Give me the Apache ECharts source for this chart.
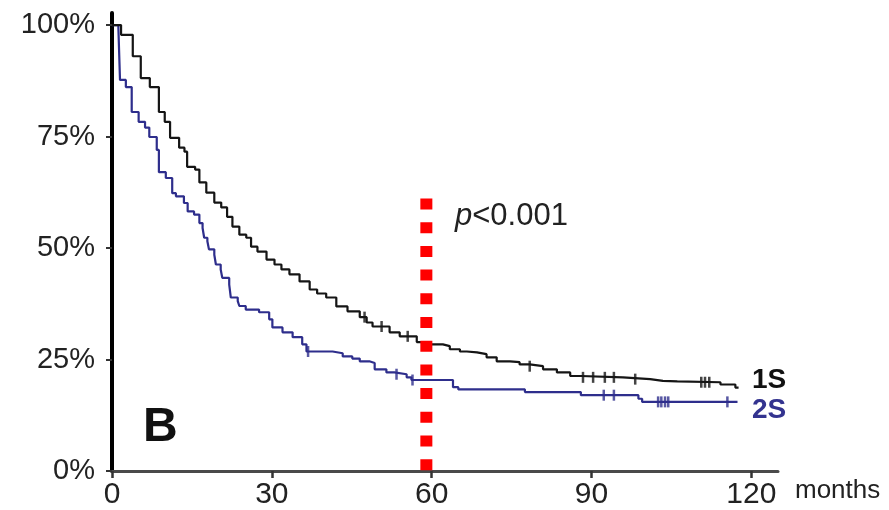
<!DOCTYPE html>
<html>
<head>
<meta charset="utf-8">
<script src="https://cdn.jsdelivr.net/npm/echarts@6/dist/echarts.min.js"></script>
<style>
html,body{margin:0;padding:0;background:#fff;}
#chart{width:889px;height:510px;}
</style>
</head>
<body>
<div id="chart"></div>
<script>
// Kaplan-Meier curves: time (months) at which survival drops, and survival (%) after the drop
const blackTimes = [0, 1.7, 3.9, 5.4, 7.1, 8.8, 9.9, 10.9, 12.6, 13.6, 14.1, 15.6, 16.4, 17.7, 19.2, 20.5, 21.6, 22.6, 23.9, 25.2, 26.1, 27.3, 29.0, 30.5, 31.8, 33.3, 35.2, 37.1, 38.5, 40.2, 42.1, 44.2, 46.5, 47.8, 48.9, 52.1, 54.0, 57.2, 59.6, 62.1, 63.4, 65.3, 66.6, 68.5, 70.3, 72.2, 74.7, 76.5, 78.4, 80.9, 83.5, 86.0, 88.0, 95.9, 101.0, 103.4, 106.1, 114.2, 117.0, 117.6];
const blackSurv  = [100, 97.8, 93.0, 88.1, 86.1, 80.5, 78.3, 74.7, 72.5, 71.6, 68.2, 67.6, 64.7, 62.4, 60.2, 59.1, 57.0, 54.8, 53.0, 52.3, 50.3, 49.2, 47.4, 46.3, 45.2, 44.1, 42.5, 40.7, 39.8, 38.9, 36.9, 35.8, 34.5, 33.3, 32.4, 31.1, 30.2, 28.9, 28.4, 28.0, 27.3, 26.8, 26.6, 26.2, 25.5, 24.6, 24.4, 23.9, 23.5, 22.8, 22.1, 21.3, 21.0, 20.6, 20.2, 20.1, 19.9, 19.4, 18.7, 18.7];
const blackCensor = [47.4, 50.6, 55.5, 78.4, 88.4, 90.3, 92.5, 94.2, 98.2, 110.6, 111.3, 112.1];

const blueTimes = [0, 1.2, 1.5, 2.6, 3.7, 5.0, 6.2, 7.0, 8.4, 8.8, 10.1, 11.3, 12.0, 13.5, 14.2, 15.4, 16.4, 17.0, 17.3, 17.9, 18.2, 19.2, 19.5, 20.4, 20.7, 22.0, 22.3, 23.6, 23.9, 25.1, 27.6, 29.5, 30.1, 32.0, 33.9, 35.7, 36.5, 41.4, 43.3, 45.1, 46.5, 48.3, 49.3, 51.5, 53.0, 55.3, 56.2, 64.0, 65.0, 77.5, 88.0, 98.8, 99.5, 117.4];
const blueSurv  = [100, 99.3, 87.7, 86.1, 80.5, 78.3, 77.0, 74.9, 72.0, 67.0, 65.7, 62.3, 61.6, 60.1, 58.2, 57.5, 55.6, 54.5, 52.3, 51.5, 49.7, 48.5, 46.3, 45.2, 43.3, 41.8, 38.9, 38.1, 37.0, 36.2, 35.6, 34.0, 32.2, 31.1, 30.0, 28.4, 26.8, 26.4, 25.7, 25.2, 24.6, 24.2, 22.8, 22.1, 21.7, 21.0, 20.4, 18.8, 18.3, 17.7, 17.0, 16.2, 15.5, 15.5];
const blueCensor = [36.8, 53.4, 56.4, 92.3, 94.2, 102.5, 103.1, 103.8, 104.4, 115.5];

const xTickValues = [0, 30, 60, 90, 120];
const yTickValues = [0, 25, 50, 75, 100];
const cutoffMonth = [59];
const cutoffRange = [61.1, 0];

function survAt(times, surv, t) {
  let v = surv[0];
  for (let i = 0; i < times.length; i++) { if (times[i] <= t) v = surv[i]; }
  return v;
}
const pairs = (ts, ss) => ts.map((t, i) => [t, ss[i]]);

const FONT = '"Liberation Sans", Arial, sans-serif';
const chart = echarts.init(document.getElementById('chart'));
chart.setOption({
  animation: false,
  backgroundColor: '#fff',
  grid: { left: 112, right: 111, top: 13, bottom: 38 },
  xAxis: {
    type: 'value', min: 0, max: 125,
    splitLine: { show: false },
    axisLine: { show: true, lineStyle: { color: '#4a4a4a', width: 3 } },
    axisTick: { show: true, customValues: xTickValues, length: 7, lineStyle: { color: '#333', width: 2.5 } },
    axisLabel: { customValues: xTickValues, margin: 9, fontFamily: FONT, fontSize: 30, color: '#222' }
  },
  yAxis: {
    type: 'value', min: 0, max: 102.7,
    splitLine: { show: false },
    axisLine: { show: true, lineStyle: { color: '#000', width: 4 } },
    axisTick: { show: true, customValues: yTickValues, length: 6, lineStyle: { color: '#333', width: 2 } },
    axisLabel: { customValues: yTickValues, margin: 17, fontFamily: FONT, fontSize: 29, color: '#222',
      formatter: v => v + '%' }
  },
  graphic: [
    { type: 'text', left: 143, top: 404, style: { text: 'B', font: 'bold 48px ' + FONT, fill: '#111' } },
    { type: 'text', left: 455, top: 201, style: { text: '{i|p}<0.001', font: '31px ' + FONT, fill: '#222',
        rich: { i: { fontStyle: 'italic', fontFamily: FONT, fontSize: 31, fill: '#222' } } } },
    { type: 'text', left: 752, top: 366, style: { text: '1S', font: 'bold 28px ' + FONT, fill: '#111' } },
    { type: 'text', left: 752, top: 396, style: { text: '2S', font: 'bold 28px ' + FONT, fill: '#33338f' } },
    { type: 'text', left: 795, top: 478, style: { text: 'months', font: '26px ' + FONT, fill: '#222' } }
  ],
  series: [
    { name: '2S', type: 'line', step: 'end', symbol: 'none', data: pairs(blueTimes, blueSurv),
      lineStyle: { color: '#2e2e8c', width: 2.2 }, z: 2 },
    { name: '1S', type: 'line', step: 'end', symbol: 'none', data: pairs(blackTimes, blackSurv),
      lineStyle: { color: '#151515', width: 2.2 }, z: 3 },
    { type: 'scatter', symbol: 'rect', symbolSize: [2.5, 11], z: 3,
      itemStyle: { color: '#2e2e8c' }, data: blueCensor.map(t => [t, survAt(blueTimes, blueSurv, t)]) },
    { type: 'scatter', symbol: 'rect', symbolSize: [2.5, 11], z: 4,
      itemStyle: { color: '#151515' }, data: blackCensor.map(t => [t, survAt(blackTimes, blackSurv, t)]) },
    { type: 'line', symbol: 'none', z: 10,
      data: cutoffRange.map(v => [cutoffMonth[0], v]),
      lineStyle: { color: '#ff0000', width: 12, type: [11, 12.7], cap: 'butt' } }
  ]
});
</script>
</body>
</html>
